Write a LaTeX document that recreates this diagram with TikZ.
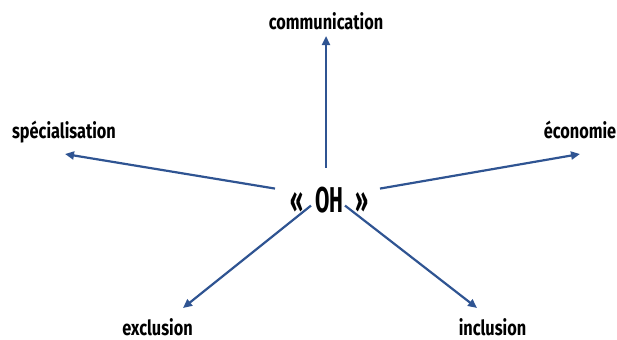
\documentclass[tikz,border=0pt]{standalone}
\usepackage{fontspec}
\setmainfont{Fira Sans}[FakeStretch=0.78]
\newfontfamily\ohfont{Fira Sans}[FakeStretch=0.58]
\usepackage{tikz}
\usetikzlibrary{arrows.meta,calc}
\definecolor{arrowblue}{RGB}{47,84,146}

\begin{document}
\begin{tikzpicture}[x=1bp,y=-1bp,
  every node/.style={font=\bfseries\fontsize{21}{21}\selectfont,inner sep=0pt,anchor=base},
  arr/.style={draw=arrowblue,line width=2.2bp,-{Triangle[length=9bp,width=8bp]}}]
\useasboundingbox (0,0) rectangle (617,339);
% centre
\node (oh) at (329.5,212) {\ohfont\fontsize{36}{36}\selectfont «\,\,OH\,\,»};
% labels
\node (comm) at (326,29) {communication};
\node (spec) at (64,138) {spécialisation};
\node (econ) at (580,138) {économie};
\node (excl) at (157.5,335) {exclusion};
\node (incl) at (492.5,335) {inclusion};
% arrow tips
\coordinate (commTip) at (326,36);
\coordinate (specTip) at (65,154);
\coordinate (econTip) at (580,154);
\coordinate (exclTip) at (183,308);
\coordinate (inclTip) at (477,308);
% arrows
\draw[arr] ($(oh)+(-3.5,-32)$) -- (commTip);
\draw[arr] ($(oh)+(-54.5,-11)$) -- (specTip);
\draw[arr] ($(oh)+(50.5,-11)$) -- (econTip);
\draw[arr] ($(oh)+(-18.5,6)$) -- (exclTip);
\draw[arr] ($(oh)+(15.5,6)$) -- (inclTip);
\end{tikzpicture}
\end{document}
